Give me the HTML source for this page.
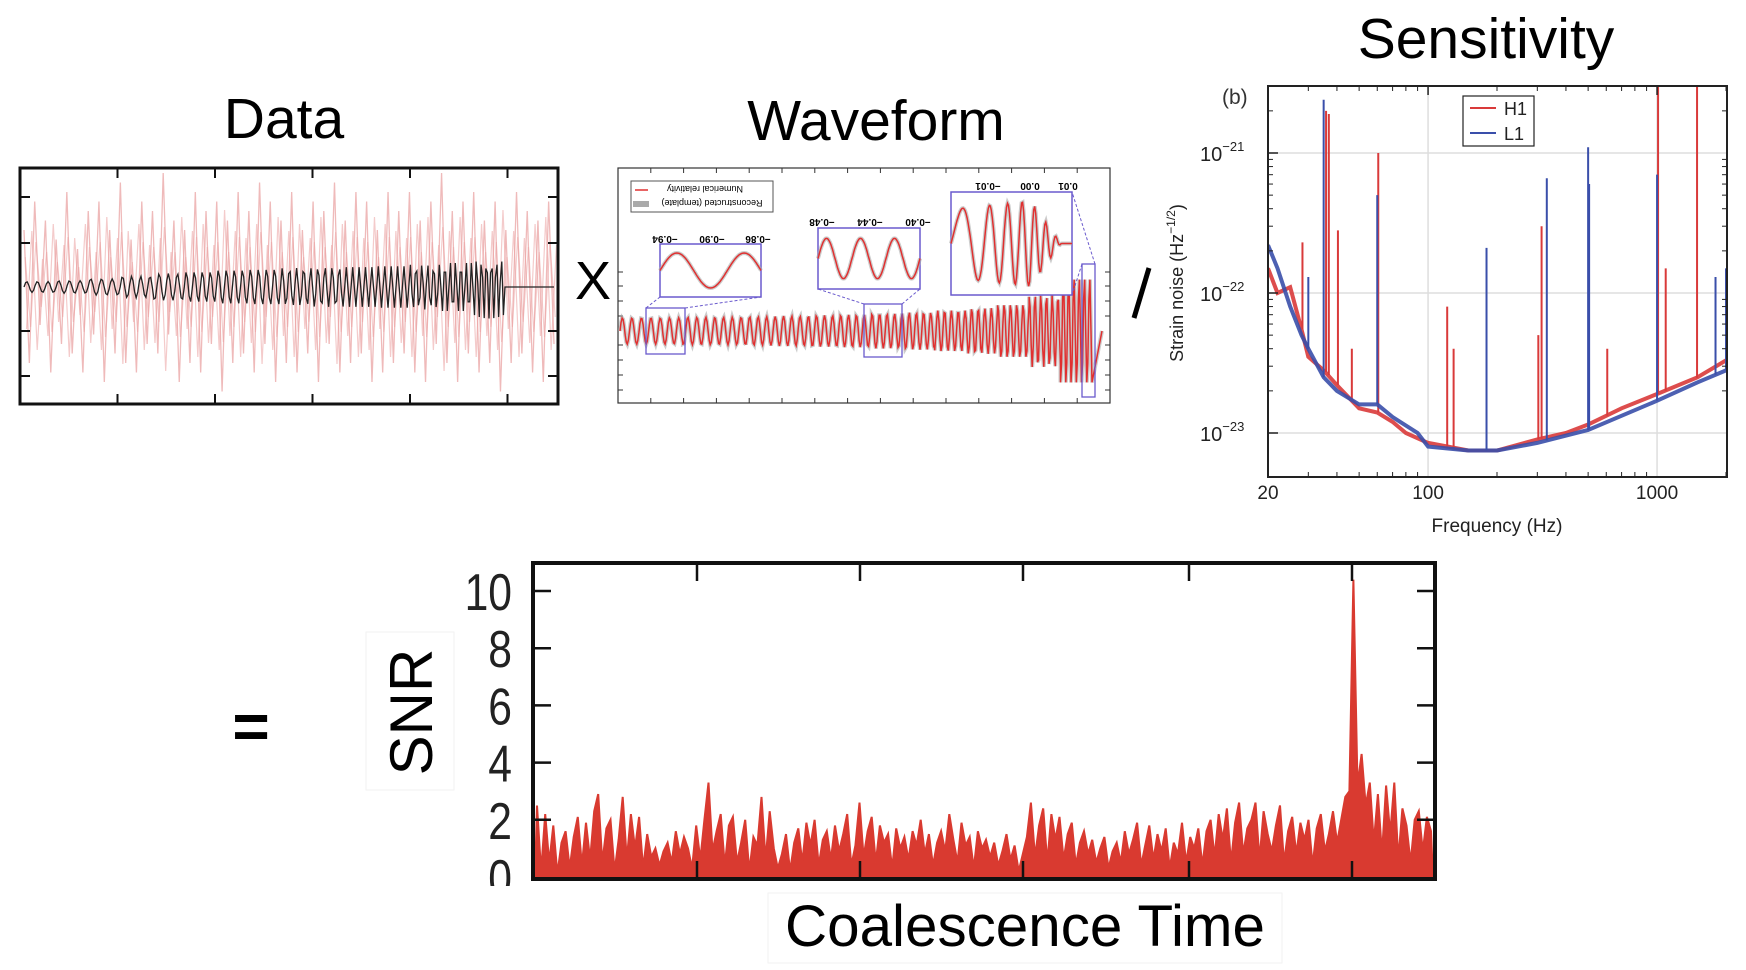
<!DOCTYPE html>
<html><head><meta charset="utf-8"><style>
html,body{margin:0;padding:0;background:#fff;}
svg{display:block;font-family:"Liberation Sans",sans-serif;}
</style></head><body>
<svg id="fig" width="1746" height="970" viewBox="0 0 1746 970">
<text x="284" y="138" font-size="57" text-anchor="middle">Data</text>
<text x="876" y="140" font-size="57" text-anchor="middle">Waveform</text>
<text x="1486" y="58" font-size="57" text-anchor="middle">Sensitivity</text>
<text x="593" y="299" font-size="54" text-anchor="middle">X</text>
<line x1="1149" y1="268" x2="1134" y2="318" stroke="#000" stroke-width="5"/>
<text x="251" y="748" font-size="64" font-weight="bold" text-anchor="middle">=</text>

<g id="dataPanel"></g>
<g id="wfPanel"></g>
<g id="sensPanel"></g>
<g id="snrPanel"></g>

<rect x="366" y="632" width="88" height="158" fill="none" stroke="#f2f2f2"/>
<text transform="translate(432,712) rotate(-90)" font-size="60" text-anchor="middle">SNR</text>
<rect x="768" y="893" width="514" height="70" fill="none" stroke="#f2f2f2"/>
<text x="1025" y="946" font-size="58" text-anchor="middle" textLength="480" lengthAdjust="spacingAndGlyphs">Coalescence Time</text>
</svg>
<script>
const snrValues = [2.5,0.2,2.2,0.5,1.8,0.1,1.2,1.6,0.3,1.4,2.1,0.4,1.9,0.6,2.3,2.9,0.5,1.7,2.0,0.2,
1.3,2.8,0.6,2.2,1.0,2.1,0.3,1.5,0.7,1.0,0.4,0.9,1.2,0.5,1.6,0.8,1.4,1.0,0.3,1.8,
0.6,2.0,3.3,0.9,1.6,2.2,0.4,1.8,2.1,0.5,1.2,2.0,0.2,1.4,1.1,2.8,0.6,2.3,1.0,0.3,
0.8,1.5,0.2,1.2,1.7,0.5,1.9,1.1,2.0,0.4,1.3,1.6,0.6,1.8,0.9,1.5,2.2,0.4,1.1,2.6,
0.7,1.6,2.1,0.5,1.8,1.2,1.5,0.3,1.7,1.0,1.4,0.6,1.6,1.1,2.0,0.8,1.5,0.4,1.2,1.6,
0.9,2.2,1.3,0.5,1.9,1.1,1.4,0.3,1.6,1.0,1.3,0.7,1.2,0.4,0.9,1.5,0.6,1.1,0.2,0.8,
1.4,2.6,0.7,1.8,2.4,0.5,2.2,1.3,2.1,0.6,1.5,1.9,0.4,1.2,1.6,0.8,1.3,0.5,1.0,1.4,
0.3,0.9,1.2,0.5,1.6,0.8,1.3,1.9,0.4,1.1,1.8,0.6,1.5,0.9,1.7,0.3,1.2,0.8,1.9,0.5,
1.4,1.0,1.7,0.4,1.6,2.0,0.7,2.2,1.3,2.4,0.5,1.9,2.6,0.8,1.7,2.0,2.6,0.6,2.3,1.5,
0.9,1.8,2.5,0.5,1.6,2.1,0.8,1.9,1.3,2.0,0.4,1.7,2.2,0.9,1.5,2.3,1.2,2.0,2.8,3.0,
10.4,3.2,4.3,2.5,3.3,1.2,2.9,0.8,3.2,1.5,3.3,0.6,2.4,1.8,0.5,2.0,2.3,0.9,2.1,1.6];
const snrTicks = [0,2,4,6,8,10];
const snrTickLabels = ["0","2","4","6","8","10"];

const noiseValues = [0.6,-0.8,0.9,-0.4,0.7,-0.9,0.5,-0.6,1.0,-0.7,0.4,-0.9,0.8,-0.5,0.9,-1.0,0.6,-0.7,1.1,-0.8,
0.5,-0.9,0.9,-0.6,0.8,-0.7,1.2,-0.5,0.7,-1.0,0.6,-0.8,1.0,-0.9,0.8,-0.6,0.9,-1.1,0.7,-0.8,
1.0,-0.7,0.8,-0.9,1.1,-0.6,0.9,-1.0,0.7,-0.8,1.0,-0.9,0.6,-0.7,0.9,-1.0,0.8,-0.6,1.1,-0.9,
0.7,-0.8,1.0,-0.7,0.9,-1.0,0.6,-0.9,1.0,-0.8,0.8,-0.7,1.0,-0.9,0.7,-1.0,0.9,-0.6,1.2,-0.8,
0.8,-1.0,0.9,-0.7,1.0,-0.9,0.7,-0.8,0.9,-1.1,0.6,-0.8,1.0,-0.7,0.8,-0.9,0.7,-1.0,0.9,-0.6];
const chirpEnvelope = [0.12,0.14,0.18,0.24,0.3,0.34,0.38,0.4,0.42,0.44,0.44,0.46,0.5,0.56,0.7];
const chirpCycles = [3,3,3,3.5,3.5,4,4,4,4.5,4.5,5,5,5.5,6,6.5];

const wfEnvelope = [0.22,0.22,0.23,0.23,0.24,0.25,0.26,0.27,0.29,0.31,0.34,0.38,0.45,0.6,0.9];
const wfCycles = [3.3,3.4,3.5,3.6,3.7,3.8,3.9,4.0,4.2,4.4,4.6,4.8,5,5.5,6];

const h1Freq = [20,22,25,28,30,35,40,50,60,70,80,100,150,200,300,400,500,700,1000,1500,2000];
const h1Noise = [15,10,11,5.5,3.5,2.8,2.2,1.5,1.4,1.2,1.0,0.85,0.75,0.75,0.9,1.0,1.15,1.5,1.9,2.5,3.3];
const l1Freq = [20,22,25,28,30,35,40,50,60,70,90,100,150,200,300,500,1000,1500,2000];
const l1Noise = [22,15,8,5,4,2.5,2.0,1.6,1.6,1.3,1.0,0.8,0.75,0.75,0.85,1.05,1.7,2.3,2.8];
const h1LineFreq = [28,35.5,36.5,40,46,60,120,128,300,310,600,1000,1080,1480,2000];
const h1LineHeight = [23,200,190,28,4,100,8,4,5,30,4,500,15,500,45];
const l1LineFreq = [30,35,60,180,330,500,505,1000,1800,2000];
const l1LineHeight = [13,240,50,21,66,110,60,70,13,15];
const sensYTicks = [-21,-22,-23];
const sensXTicks = [20,100,1000];

const NS = "http://www.w3.org/2000/svg";
function mk(parent, tag, attrs){const e=document.createElementNS(NS,tag);for(const k in attrs)e.setAttribute(k,attrs[k]);parent.appendChild(e);return e;}

(function(){
  const g=document.getElementById('dataPanel');
  const L=20,R=558,T=168,B=404,y0=287;
  const xs=i=>L+4+i*(R-L-8)/(noiseValues.length-1);
  let pts=noiseValues.map((v,i)=>xs(i)+','+(y0-v*95)).join(' ');
  const n1=mk(g,'polyline',{points:pts,fill:'none',stroke:'#e48c8c','stroke-width':1.3,'stroke-opacity':0.6});
  
  
  let pts2=noiseValues.map((v,i)=>(xs(i)+2.5)+','+(y0+v*70)).join(' ');
  const n2=mk(g,'polyline',{points:pts2,fill:'none',stroke:'#eba0a0','stroke-width':1.2,'stroke-opacity':0.55});
  
  
  let pts3=noiseValues.map((v,i)=>(xs(i)+1.2)+','+(y0-v*50)).join(' ');
  const n3=mk(g,'polyline',{points:pts3,fill:'none',stroke:'#eba0a0','stroke-width':1.2,'stroke-opacity':0.5});
  
  
  const cx0=24,cx1=505,seg=(cx1-cx0)/chirpEnvelope.length;let d='',ph=0;
  for(let s=0;s<chirpEnvelope.length;s++){
    for(let k=0;k<=20;k++){
      const t=k/20,x=cx0+(s+t)*seg,p=ph+chirpCycles[s]*t*2*Math.PI;
      const y=y0-chirpEnvelope[s]*45*Math.sin(p);
      d+=(d?'L':'M')+x.toFixed(1)+','+y.toFixed(1);
    }
    ph+=chirpCycles[s]*2*Math.PI;
  }
  d+='L'+(R-4)+','+y0;
  const c=mk(g,'path',{d:d,fill:'none',stroke:'#222','stroke-width':1.3});
  
  
  const fr=mk(g,'rect',{x:L,y:T,width:R-L,height:B-T,fill:'none',stroke:'#111','stroke-width':3});
  
  
  for(let i=1;i<=5;i++){const x=L+i*97.5;mk(g,'line',{x1:x,y1:T,x2:x,y2:T+10,stroke:'#111','stroke-width':2});mk(g,'line',{x1:x,y1:B,x2:x,y2:B-10,stroke:'#111','stroke-width':2});}
  [197,243,331,376].forEach(y=>{mk(g,'line',{x1:L,y1:y,x2:L+10,y2:y,stroke:'#111','stroke-width':2});mk(g,'line',{x1:R,y1:y,x2:R-10,y2:y,stroke:'#111','stroke-width':2});});
})();

(function(){
  const g=document.getElementById('wfPanel');
  const L=618,R=1110,T=168,B=403,y0=331;
  const fr=mk(g,'rect',{x:L,y:T,width:R-L,height:B-T,fill:'#fff',stroke:'#333','stroke-width':1.2});
  
  
  for(let i=1;i<=14;i++){const x=L+i*(R-L)/15;mk(g,'line',{x1:x,y1:T,x2:x,y2:T+5,stroke:'#333'});mk(g,'line',{x1:x,y1:B,x2:x,y2:B-5,stroke:'#333'});}
  [272,286,301,316,345,360,375,390].forEach(y=>{mk(g,'line',{x1:L,y1:y,x2:L+5,y2:y,stroke:'#333'});mk(g,'line',{x1:R,y1:y,x2:R-5,y2:y,stroke:'#333'});});
  const cx0=620,cx1=1092,seg=(cx1-cx0)/wfEnvelope.length;let d='',ph=0;
  for(let s=0;s<wfEnvelope.length;s++){
    for(let k=0;k<=30;k++){
      const t=k/30,x=cx0+(s+t)*seg,p=ph+wfCycles[s]*t*2*Math.PI;
      const y=y0-wfEnvelope[s]*60*Math.sin(p);
      d+=(d?'L':'M')+x.toFixed(1)+','+y.toFixed(1);
    }
    ph+=wfCycles[s]*2*Math.PI;
  }
  d+='L1102,'+y0;
  const gr=mk(g,'path',{d:d,fill:'none',stroke:'#aaa','stroke-width':4,'stroke-opacity':0.6});
  
  
  const rl=mk(g,'path',{d:d,fill:'none',stroke:'#e03030','stroke-width':1.5});
  
  
  const C='#6a5acd';
  [[646,308,39,46],[864,304,38,53],[1082,264,13,133]].forEach((b,i)=>{
    const r=mk(g,'rect',{x:b[0],y:b[1],width:b[2],height:b[3],fill:'none',stroke:C,'stroke-width':1.3});
    
    
  });
  const insets=[[660,244,101,53,1.5,0.35],[818,228,102,61,3,0.35],[951,192,121,103,4.5,1]];
  insets.forEach((b,i)=>{
    const ig=mk(g,'g',{});
    
    
    mk(ig,'rect',{x:b[0],y:b[1],width:b[2],height:b[3],fill:'#fff',stroke:C,'stroke-width':1.5});
    let dd='';const cy=b[1]+b[3]/2,amp=b[3]*0.33;
    for(let k=0;k<=120;k++){const t=k/120,x=b[0]+t*b[2];let a=amp,f=(i===2?(2+t*6):b[4]);
      if(i===2){a=amp*(t<0.65?1+t*0.4:Math.max(0,1.3-(t-0.65)*5));}
      const y=cy-a*Math.sin(2*Math.PI*f*t);dd+=(k?'L':'M')+x.toFixed(1)+','+y.toFixed(1);}
    mk(ig,'path',{d:dd,fill:'none',stroke:'#aaa','stroke-width':4,'stroke-opacity':0.6});
    mk(ig,'path',{d:dd,fill:'none',stroke:'#e03030','stroke-width':1.5});
  });
  [[646,308,660,297],[685,308,761,297],[864,304,818,289],[902,304,920,289],[1082,264,1072,295],[1095,264,1072,192]].forEach(l=>mk(g,'line',{x1:l[0],y1:l[1],x2:l[2],y2:l[3],stroke:C,'stroke-dasharray':'3,2'}));
  const lbls=[[665,236,'−0.94'],[712,236,'−0.90'],[758,236,'−0.86'],[822,219,'−0.48'],[870,219,'−0.44'],[918,219,'−0.40'],[988,183,'−0.01'],[1030,183,'0.00'],[1068,183,'0.01']];
  lbls.forEach(l=>{const t=mk(g,'text',{transform:`translate(${l[0]},${l[1]}) rotate(180)`,'font-size':10,'text-anchor':'middle','font-weight':'bold'});t.textContent=l[2];
    
    });
  const lg=mk(g,'g',{});
  
  
  mk(lg,'rect',{x:631,y:181,width:142,height:31,fill:'#fff',stroke:'#555'});
  mk(lg,'line',{x1:635,y1:190,x2:648,y2:190,stroke:'#e03030','stroke-width':1.5});
  mk(lg,'rect',{x:633,y:201,width:16,height:6,fill:'#aaa'});
  const t1=mk(lg,'text',{transform:'translate(705,186) rotate(180)','font-size':9,'text-anchor':'middle'});t1.textContent='Numerical relativity';
  const t2=mk(lg,'text',{transform:'translate(712,200) rotate(180)','font-size':9,'text-anchor':'middle'});t2.textContent='Reconstructed (template)';
})();

(function(){
  const g=document.getElementById('sensPanel');
  const L=1268,R=1727,T=86,B=477;
  const xF=f=>L+(Math.log10(f)-Math.log10(20))*229;
  const yS=s=>153-(Math.log10(s)+21)*140;
  sensXTicks.forEach(f=>{if(f>20)mk(g,'line',{x1:xF(f),y1:T,x2:xF(f),y2:B,stroke:'#ddd','stroke-width':1.5});});
  sensYTicks.forEach(e=>mk(g,'line',{x1:L,y1:yS(Math.pow(10,e)),x2:R,y2:yS(Math.pow(10,e)),stroke:'#ddd','stroke-width':1.5}));
  const cp=mk(g,'clipPath',{id:'sclip'});mk(cp,'rect',{x:L,y:T,width:R-L,height:B-T});
  const plot=mk(g,'g',{'clip-path':'url(#sclip)'});
  function series(fr,vals,lf,lh,col,name,off){
    const pts=fr.map((f,i)=>xF(f).toFixed(1)+','+yS(vals[i]*1e-23).toFixed(1)).join(' ');
    const p=mk(plot,'polyline',{points:pts,fill:'none',stroke:col,'stroke-width':4,'stroke-opacity':0.9});
    
    
    lf.forEach((f,i)=>{
      let j=0;while(j<fr.length-2&&fr[j+1]<f)j++;
      const t=(Math.log10(f)-Math.log10(fr[j]))/(Math.log10(fr[j+1])-Math.log10(fr[j]));
      const base=Math.pow(10,Math.log10(vals[j])+t*(Math.log10(vals[j+1])-Math.log10(vals[j])));
      const l=mk(plot,'line',{x1:xF(f)+off,y1:yS(base*1e-23),x2:xF(f)+off,y2:yS(lh[i]*1e-23),stroke:col,'stroke-width':2});
      
      
    });
  }
  series(h1Freq,h1Noise,h1LineFreq,h1LineHeight,'#d93a3a','h1',1);
  series(l1Freq,l1Noise,l1LineFreq,l1LineHeight,'#3a4faa','l1',0);
  const fr=mk(g,'rect',{x:L,y:T,width:R-L,height:B-T,fill:'none',stroke:'#222','stroke-width':2});
  
  
  [30,40,50,60,70,80,90,200,300,400,500,600,700,800,900,2000].forEach(f=>{mk(g,'line',{x1:xF(f),y1:T,x2:xF(f),y2:T+5,stroke:'#222'});mk(g,'line',{x1:xF(f),y1:B,x2:xF(f),y2:B-5,stroke:'#222'});});
  sensXTicks.forEach(f=>{mk(g,'line',{x1:xF(f),y1:T,x2:xF(f),y2:T+9,stroke:'#222','stroke-width':1.5});
    const t=mk(g,'text',{x:xF(f),y:499,'font-size':19,'text-anchor':'middle',fill:'#222'});t.textContent=String(f);
    
    });
  [-21,-22,-23].forEach(e=>{for(let m=2;m<=9;m++){const y=yS(m*Math.pow(10,e));if(y>T&&y<B){mk(g,'line',{x1:L,y1:y,x2:L+5,y2:y,stroke:'#222'});mk(g,'line',{x1:R,y1:y,x2:R-5,y2:y,stroke:'#222'});}}});
  sensYTicks.forEach(e=>{const y=yS(Math.pow(10,e));mk(g,'line',{x1:L,y1:y,x2:L+10,y2:y,stroke:'#222','stroke-width':1.5});
    const t=mk(g,'text',{x:1200,y:y+8,'font-size':20,fill:'#222'});t.innerHTML='10<tspan dy="-10" font-size="13">'+e.toString().replace('-','−')+'</tspan>';
    
    });
  const b=mk(g,'text',{x:1222,y:104,'font-size':21,fill:'#333'});b.textContent='(b)';
  const yl=mk(g,'text',{transform:'translate(1183,283) rotate(-90)','font-size':18,'text-anchor':'middle',fill:'#222'});
  yl.innerHTML='Strain noise (Hz<tspan dy="-8" font-size="12">−1/2</tspan><tspan dy="8">)</tspan>';
  
  
  const xl=mk(g,'text',{x:1497,y:532,'font-size':19,'text-anchor':'middle',fill:'#222'});xl.textContent='Frequency (Hz)';
  
  
  const lg=mk(g,'g',{});
  
  
  mk(lg,'rect',{x:1463,y:96,width:71,height:50,fill:'#fff',stroke:'#222','stroke-width':1.2});
  mk(lg,'line',{x1:1470,y1:108,x2:1496,y2:108,stroke:'#d93a3a','stroke-width':2});
  mk(lg,'line',{x1:1470,y1:133,x2:1496,y2:133,stroke:'#3a4faa','stroke-width':2});
  const a=mk(lg,'text',{x:1504,y:115,'font-size':18,fill:'#222'});a.textContent='H1';
  const c=mk(lg,'text',{x:1504,y:140,'font-size':18,fill:'#222'});c.textContent='L1';
})();

(function(){
  const g=document.getElementById('snrPanel');
  const L=533,R=1435,T=563,B=879;
  const yV=v=>877-v*28.6;
  const xI=i=>L+4+i*(R-L-8)/(snrValues.length-1);
  let pts=(L+2)+','+B+' '+snrValues.map((v,i)=>xI(i).toFixed(1)+','+yV(v).toFixed(1)).join(' ')+' '+(R-2)+','+B;
  const area=mk(g,'polygon',{points:pts,fill:'#d93a30',stroke:'#d93a30','stroke-width':2});
  
  
  const fr=mk(g,'rect',{x:L,y:T,width:R-L,height:B-T,fill:'none',stroke:'#111','stroke-width':4});
  
  
  [697,860,1023,1189,1352].forEach(x=>{mk(g,'line',{x1:x,y1:T,x2:x,y2:T+18,stroke:'#111','stroke-width':2.5});mk(g,'line',{x1:x,y1:B,x2:x,y2:B-18,stroke:'#111','stroke-width':2.5});});
  snrTicks.forEach((v,i)=>{const y=yV(v);
    if(v>0){mk(g,'line',{x1:L,y1:y,x2:L+18,y2:y,stroke:'#111','stroke-width':2.5});mk(g,'line',{x1:R,y1:y,x2:R-18,y2:y,stroke:'#111','stroke-width':2.5});}
    const t=mk(g,'text',{x:512,y:y+19,'font-size':52,'text-anchor':'end',fill:'#222',transform:`translate(${512*0.18},0) scale(0.82,1)`});
    t.textContent=snrTickLabels[i];
    
    });
  mk(g,'rect',{x:440,y:886,width:90,height:30,fill:'#fff'});
})();
</script>
</body></html>
